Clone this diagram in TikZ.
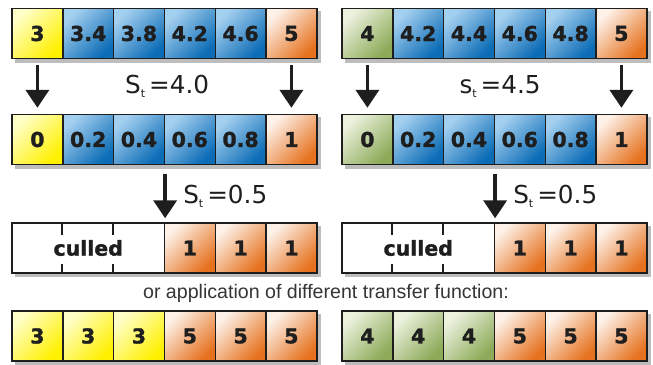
\documentclass[tikz,border=0pt]{standalone}
\usepackage{fontspec}
\setmainfont{Liberation Sans}
\newfontfamily\cellfont{DejaVu Sans}[BoldFeatures={FakeBold=1.3}]
\newfontfamily\labfont{DejaVu Sans}
\usetikzlibrary{arrows.meta,backgrounds,calc}
\definecolor{ink}{HTML}{1E1E1E}
\definecolor{yelL}{HTML}{FFFFC8}
\definecolor{yelD}{HTML}{FFF000}
\definecolor{bluL}{HTML}{A4D0F0}
\definecolor{bluD}{HTML}{0C6CB6}
\definecolor{orgL}{HTML}{FDF1E8}
\definecolor{orgD}{HTML}{E6721F}
\definecolor{grnL}{HTML}{ECF2DE}
\definecolor{grnD}{HTML}{8CAA58}
\definecolor{shadowc}{HTML}{BDBDBD}
\tikzset{
  cell/.style={rectangle, draw=ink, line width=1.4pt, minimum width=50.8pt,
    minimum height=50pt, inner sep=0pt, text=ink,
    font=\cellfont\bfseries\fontsize{20.5}{20.5}\selectfont},
  yel/.style={cell, top color=yelL, bottom color=yelD, shading angle=45},
  blu/.style={cell, top color=bluL, bottom color=bluD, shading angle=45},
  org/.style={cell, top color=orgL, bottom color=orgD, shading angle=45},
  grn/.style={cell, top color=grnL, bottom color=grnD, shading angle=45},
  cull/.style={cell, fill=white, minimum width=152.4pt},
  tick/.style={draw=ink, line width=1.4pt},
  bigarrow/.style={draw=ink, line width=3.6pt, -{Triangle[width=23pt,length=18pt]}},
  lab/.style={font=\labfont\fontsize{24.7}{25}\selectfont, text=ink, inner sep=0pt},
  note/.style={font=\fontsize{19.6}{20}\selectfont, text=ink!90, inner sep=0pt},
}
\newcommand{\subt}{\raisebox{-3.5pt}{\fontsize{11}{11}\selectfont t}\hspace{4pt}}
\begin{document}
\begin{tikzpicture}[x=1pt,y=-1pt]
\useasboundingbox (0,0) rectangle (653,364);
% ---------- left panel ----------
\node[yel] (L1a) at (37.4,33.5) {3};
\node[blu] (L1b) at (88.2,33.5) {3.4};
\node[blu] (L1c) at (139,33.5) {3.8};
\node[blu] (L1d) at (189.8,33.5) {4.2};
\node[blu] (L1e) at (240.6,33.5) {4.6};
\node[org] (L1f) at (291.4,33.5) {5};
\node[yel] (L2a) at (37.4,139.5) {0};
\node[blu] (L2b) at (88.2,139.5) {0.2};
\node[blu] (L2c) at (139,139.5) {0.4};
\node[blu] (L2d) at (189.8,139.5) {0.6};
\node[blu] (L2e) at (240.6,139.5) {0.8};
\node[org] (L2f) at (291.4,139.5) {1};
\node[cull] (L3a) at (88.2,248) {culled};
\node[org] (L3d) at (189.8,248) {1};
\node[org] (L3e) at (240.6,248) {1};
\node[org] (L3f) at (291.4,248) {1};
\node[yel] (L4a) at (37.4,336) {3};
\node[yel] (L4b) at (88.2,336) {3};
\node[yel] (L4c) at (139,336) {3};
\node[org] (L4d) at (189.8,336) {5};
\node[org] (L4e) at (240.6,336) {5};
\node[org] (L4f) at (291.4,336) {5};
% ---------- right panel ----------
\node[grn] (R1a) at (367.4,33.5) {4};
\node[blu] (R1b) at (418.2,33.5) {4.2};
\node[blu] (R1c) at (469,33.5) {4.4};
\node[blu] (R1d) at (519.8,33.5) {4.6};
\node[blu] (R1e) at (570.6,33.5) {4.8};
\node[org] (R1f) at (621.4,33.5) {5};
\node[grn] (R2a) at (367.4,139.5) {0};
\node[blu] (R2b) at (418.2,139.5) {0.2};
\node[blu] (R2c) at (469,139.5) {0.4};
\node[blu] (R2d) at (519.8,139.5) {0.6};
\node[blu] (R2e) at (570.6,139.5) {0.8};
\node[org] (R2f) at (621.4,139.5) {1};
\node[cull] (R3a) at (418.2,248) {culled};
\node[org] (R3d) at (519.8,248) {1};
\node[org] (R3e) at (570.6,248) {1};
\node[org] (R3f) at (621.4,248) {1};
\node[grn] (R4a) at (367.4,336) {4};
\node[grn] (R4b) at (418.2,336) {4};
\node[grn] (R4c) at (469,336) {4};
\node[org] (R4d) at (519.8,336) {5};
\node[org] (R4e) at (570.6,336) {5};
\node[org] (R4f) at (621.4,336) {5};
% ticks in culled areas
\foreach \p in {L,R}{
  \foreach \dx in {50.8,101.6}{
    \draw[tick] ([xshift=\dx pt]\p3a.north west) -- ++(0,13);
    \draw[tick] ([xshift=\dx pt]\p3a.south west) -- ++(0,-10);
  }
}
% shadows
\begin{scope}[on background layer]
\foreach \p in {L,R}{
  \fill[shadowc] ([shift={(3.5,3.5)}]\p1a.north west) rectangle ([shift={(3.5,3.5)}]\p1f.south east);
  \fill[shadowc] ([shift={(3.5,3.5)}]\p2a.north west) rectangle ([shift={(3.5,3.5)}]\p2f.south east);
  \fill[shadowc] ([shift={(3.5,3.5)}]\p3a.north west) rectangle ([shift={(3.5,3.5)}]\p3f.south east);
  \fill[shadowc] ([shift={(3.5,3.5)}]\p4a.north west) rectangle ([shift={(3.5,3.5)}]\p4f.south east);
}
\end{scope}
% arrows
\foreach \p in {L,R}{
  \draw[bigarrow] ([yshift=-6pt]\p1a.south) -- ([yshift=6pt]\p2a.north);
  \draw[bigarrow] ([yshift=-6pt]\p1f.south) -- ([yshift=6pt]\p2f.north);
  \coordinate (\p s) at ([yshift=-9pt]\p2c.south east);
  \coordinate (\p e) at ([yshift=4pt]\p3a.north east);
  \draw[bigarrow] (\p s) -- (\p e);
  \node[lab, anchor=west] (\p lab2) at ([xshift=18pt]$(\p s)!0.5!(\p e)$) {S\subt=0.5};
}
\node[lab] (Llab1) at ([xshift=2pt]$(L1c.south east)!0.5!(L2c.north east)$) {S\subt=4.0};
\node[lab] (Rlab1) at ([xshift=5pt]$(R1c.south east)!0.5!(R2c.north east)$) {s\subt=4.5};
\node[note] (note) at (326,293) {or application of different transfer function:};
\end{tikzpicture}
\end{document}
